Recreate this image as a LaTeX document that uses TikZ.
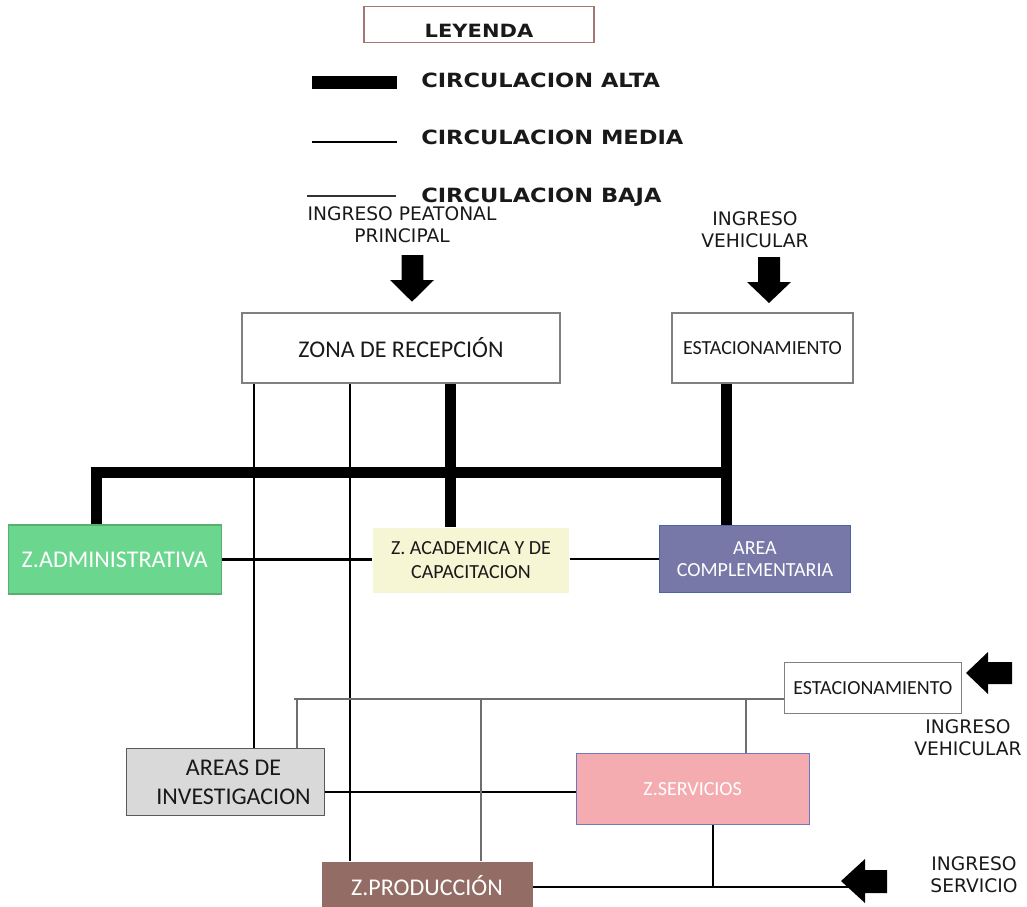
\documentclass[tikz,border=0pt]{standalone}
\usepackage{fontspec}
\setmainfont{Carlito}
\newfontfamily\verd{DejaVu Sans}
\newfontfamily\verdb[FakeStretch=1.15]{DejaVu Sans}
\definecolor{leyborder}{RGB}{165,118,118}
\definecolor{boxgray}{RGB}{128,128,128}
\definecolor{admfill}{RGB}{106,214,142}
\definecolor{admborder}{RGB}{90,175,110}
\definecolor{acadfill}{RGB}{246,246,212}
\definecolor{compfill}{RGB}{120,120,168}
\definecolor{compborder}{RGB}{75,100,165}
\definecolor{areasfill}{RGB}{217,217,217}
\definecolor{areasborder}{RGB}{90,90,90}
\definecolor{servfill}{RGB}{244,172,176}
\definecolor{servborder}{RGB}{110,120,190}
\definecolor{prodfill}{RGB}{147,108,101}
\definecolor{lowgray}{RGB}{110,110,110}
\definecolor{txt}{RGB}{25,25,25}
\begin{document}
\begin{tikzpicture}[x=0.75pt,y=-0.75pt,
  wh/.style 2 args={minimum width=#1*0.75pt, minimum height=#2*0.75pt},
  zbox/.style={draw=boxgray, line width=1pt, inner sep=0pt, align=center, text=txt},
  big/.style={font=\fontsize{18}{22}\selectfont},
  small/.style={font=\fontsize{15}{18}\selectfont},
  legtxt/.style={inner sep=0pt, anchor=west, text=txt, font=\verdb\bfseries\fontsize{14.7}{17}\selectfont},
  ingtxt/.style={inner sep=0pt, align=center, text=txt, font=\verd\fontsize{14}{16.5}\selectfont},
  alta/.style={line width=8.25pt},
  media/.style={line width=1.75pt},
  baja/.style={line width=1pt, draw=lowgray},
  entry/.style={fill=black}
]
\useasboundingbox (0,0) rectangle (1027,906);

% Legend
\node[zbox, draw=leyborder, wh={230}{36}] (ley) at (479,24.7) {};
\node[inner sep=0pt, text=txt, font=\verdb\bfseries\fontsize{13.7}{16}\selectfont] (leyt) at (479,30.7) {LEYENDA};
\draw[line width=9.75pt] (312,82.5) -- (397,82.5);
\node[legtxt] (la) at (421,80) {CIRCULACION ALTA};
\draw[line width=2.2pt] (312,142) -- (397,142);
\node[legtxt] (lm) at (421,137) {CIRCULACION MEDIA};
\draw[line width=1.1pt, draw=black!80] (307,196) -- (396,196);
\node[legtxt] (lb) at (421,197) {CIRCULACION BAJA};

% Entrance labels
\node[ingtxt] (ip) at (402,225) {INGRESO PEATONAL\\PRINCIPAL};
\node[ingtxt] (iv) at (755,230) {INGRESO\\VEHICULAR};
\node[ingtxt] (iv2) at (968,737.5) {INGRESO\\VEHICULAR};
\node[ingtxt] (is) at (974,875) {INGRESO\\SERVICIO};

% Entrance arrows
\fill[entry] (401.7,255) -- (423.3,255) -- (423.3,280) -- (434,280) -- (412,301.7) -- (390,280) -- (401.7,280) -- cycle;
\fill[entry] (758,257) -- (780,257) -- (780,282) -- (791,282) -- (769,303) -- (747,282) -- (758,282) -- cycle;

% Zones
\node[zbox, big, wh={318}{70}] (recep) at (401,348) {ZONA DE RECEPCIÓN};
\node[zbox, small, wh={181}{70}] (est1) at (762.5,348) {ESTACIONAMIENTO};
\node[zbox, big, wh={213}{69}, fill=admfill, draw=admborder, text=white] (admin) at (114.7,559.5) {Z.ADMINISTRATIVA};
\node[zbox, small, wh={196}{65}, fill=acadfill, draw=none] (acad) at (471,560.5) {Z. ACADEMICA Y DE\\CAPACITACION};
\node[zbox, font=\fontsize{15}{16.5}\selectfont, wh={191}{67}, fill=compfill, draw=compborder, text=white] (comp) at (755,559) {AREA\\COMPLEMENTARIA};
\node[zbox, small, wh={177}{51}] (est2) at (872.8,687.7) {ESTACIONAMIENTO};
\node[zbox, big, wh={198}{67}, fill=areasfill, draw=areasborder] (areas) at (225.5,782.3) {\hspace*{12pt}AREAS DE\\\hspace*{12pt}INVESTIGACION};
\node[zbox, small, wh={233}{71}, fill=servfill, draw=servborder, text=white] (serv) at (692.7,788.8) {Z.SERVICIOS};
\node[zbox, big, wh={211}{48}, fill=prodfill, draw=none, text=white] (prod) at (427,885.5) {Z.PRODUCCIÓN};

% Coordinates for connector routes
\coordinate (c1) at (254,0);
\coordinate (c2) at (350,0);
\coordinate (c3) at (450,0);
\coordinate (c4) at (726,0);
\coordinate (c5) at (96,472);
\coordinate (t0) at (294,699);
\coordinate (t1) at (297,699);
\coordinate (t2) at (481,699);
\coordinate (t3) at (746,699);
\coordinate (m1) at (0,792);
\coordinate (c6) at (713,887);
\coordinate (sa) at (850,887);

% Medium circulation
\draw[media] (c1 |- recep.south) -- (c1 |- areas.north);
\draw[media] (c2 |- recep.south) -- (c2 |- prod.north);
\draw[media] (admin.east) -- (admin.east -| acad.west);
\draw[media] (comp.west -| acad.east) -- (comp.west);
\draw[media] (areas.east |- m1) -- (serv.west |- m1);
\draw[media] (c6 |- serv.south) -- (c6);
\draw[media] (prod.east |- sa) -- (sa);

% High circulation
\draw[alta] (c3 |- recep.south) -- (c3 |- acad.north);
\draw[alta] (c4 |- est1.south) -- (c4 |- comp.north);
\draw[alta, line join=miter] (c5 |- admin.north) -- (c5) -- (c5 -| c4);

% Low circulation
\draw[baja] (t0) -- (t0 -| est2.west);
\draw[baja] (t1) -- (t1 |- areas.north);
\draw[baja] (t2) -- (t2 |- prod.north);
\draw[baja] (t3) -- (t3 |- serv.north);

% Side entrance arrows
\fill[entry] (966,673) -- (988,652) -- (988,662) -- (1012,662) -- (1012,684) -- (988,684) -- (988,694) -- cycle;
\fill[entry] (841,881) -- (865,859) -- (865,870) -- (887,870) -- (887,893) -- (865,893) -- (865,903) -- cycle;
\end{tikzpicture}
\end{document}
